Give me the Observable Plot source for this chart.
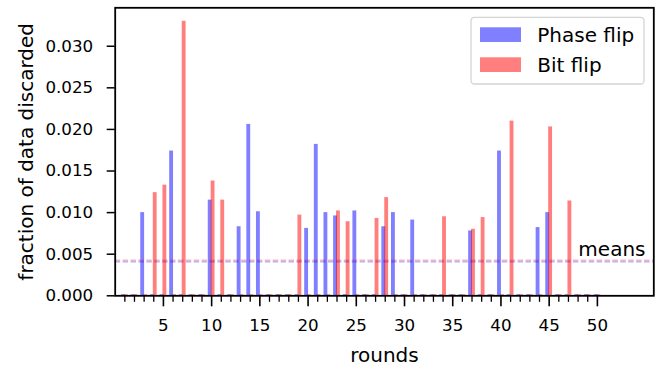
<!DOCTYPE html>
<html><head><meta charset="utf-8">
<script src="https://cdn.jsdelivr.net/npm/d3@7"></script>
<script src="https://cdn.jsdelivr.net/npm/@observablehq/plot@0.6"></script>
<style>body{margin:0;background:#fff} svg{font-family:"DejaVu Sans"}</style>
</head><body><div id="chart"></div>
<script>
const rounds = d3.range(1, 51);
const phaseFlip = [
  0, 0, 0.0100, 0, 0, 0.0174, 0, 0, 0, 0.0115,
  0, 0, 0.0083, 0.0206, 0.0101, 0, 0, 0, 0, 0.0081,
  0.0182, 0.0100, 0.0096, 0, 0.0102, 0, 0, 0.0083, 0.0100, 0,
  0.0091, 0, 0, 0, 0, 0, 0.0078, 0, 0, 0.0174,
  0, 0, 0, 0.0082, 0.0100, 0, 0, 0, 0, 0
];
const bitFlip = [
  0, 0, 0, 0.0124, 0.0133, 0, 0.0330, 0, 0, 0.0138,
  0.0115, 0, 0, 0, 0, 0, 0, 0, 0.0097, 0,
  0, 0, 0.0102, 0.0089, 0, 0, 0.0093, 0.0118, 0, 0,
  0, 0, 0, 0.0095, 0, 0, 0.0080, 0.0094, 0, 0,
  0.0210, 0, 0, 0, 0.0203, 0, 0.0114, 0, 0, 0
];
const seriesNames = ["Phase flip", "Bit flip"];
const seriesColors = ["blue", "red"];
const yTicks = [0, 0.005, 0.010, 0.015, 0.020, 0.025, 0.030];
const xMajorTicks = [5, 10, 15, 20, 25, 30, 35, 40, 45, 50];
const xMinorTicks = rounds.filter(r => r % 5 !== 0);

const phaseData = rounds.map((r, i) => ({round: r, value: phaseFlip[i]}));
const bitData = rounds.map((r, i) => ({round: r, value: bitFlip[i]}));
const meanPhase = d3.mean(phaseFlip);
const meanBit = d3.mean(bitFlip);

const chart = Plot.plot({
  width: 667, height: 368,
  marginLeft: 114.7, marginRight: 13.7, marginTop: 7.3, marginBottom: 72.7,
  style: {fontFamily: "DejaVu Sans", background: "#fff", color: "#000"},
  x: {domain: [0, 55.85]},
  y: {domain: [0, 0.03462]},
  marks: [
    Plot.ruleY(phaseData.filter(d => d.value === 0), {y: 0, x1: d => d.round - 0.35, x2: d => d.round + 0.05, stroke: "blue", strokeOpacity: 0.5, strokeWidth: 1.2, dy: -1}),
    Plot.ruleY(bitData.filter(d => d.value === 0), {y: 0, x1: d => d.round - 0.05, x2: d => d.round + 0.35, stroke: "red", strokeOpacity: 0.5, strokeWidth: 1.2, dy: -1}),
    Plot.rectY(phaseData.filter(d => d.value > 0), {x1: d => d.round - 0.35, x2: d => d.round + 0.05, y1: 0, y2: "value", fill: "blue", fillOpacity: 0.5}),
    Plot.rectY(bitData.filter(d => d.value > 0), {x1: d => d.round - 0.05, x2: d => d.round + 0.35, y1: 0, y2: "value", fill: "red", fillOpacity: 0.5}),
    Plot.ruleY([meanPhase], {stroke: "blue", strokeOpacity: 0.3, strokeWidth: 1.6, strokeDasharray: "5.5,2.4"}),
    Plot.ruleY([meanBit], {stroke: "red", strokeOpacity: 0.3, strokeWidth: 1.6, strokeDasharray: "5.5,2.4"}),
    Plot.text([meanBit], {y: d => d, text: () => "means", frameAnchor: "right", dx: -8.3, dy: -11, textAnchor: "end", lineAnchor: "middle", fontSize: 20}),
    Plot.axisY({ticks: yTicks, tickFormat: d3.format(".3f"), tickSize: 8, tickPadding: 14, fontSize: 16.7, strokeWidth: 1.5, label: null}),
    Plot.axisX({ticks: xMinorTicks, tickFormat: () => "", tickSize: 6.5, strokeWidth: 1.3, label: null}),
    Plot.axisX({ticks: xMajorTicks, tickFormat: d => String(d), tickSize: 11, tickPadding: 12, fontSize: 16.7, strokeWidth: 1.6, label: null}),
    Plot.frame({stroke: "black", strokeWidth: 1.8}),
    Plot.text(["fraction of data discarded"], {frameAnchor: "left", dx: -89, rotate: -90, textAnchor: "middle", lineAnchor: "middle", fontSize: 20}),
    Plot.text(["rounds"], {frameAnchor: "bottom", dy: 59.4, textAnchor: "middle", lineAnchor: "middle", fontSize: 20})
  ]
});
document.getElementById("chart").appendChild(chart);

// legend
const svg = d3.select(chart);
const g = svg.append("g").attr("text-anchor", "start");
g.append("rect").attr("x", 471).attr("y", 17.3).attr("width", 173).attr("height", 66.7)
  .attr("rx", 3.5).attr("fill", "white").attr("fill-opacity", 0.8)
  .attr("stroke", "#d4d4d4").attr("stroke-width", 1.3);
seriesNames.forEach((name, i) => {
  g.append("rect").attr("x", 480).attr("y", 27.3 + 30 * i).attr("width", 41).attr("height", 14.7)
    .attr("fill", seriesColors[i]).attr("fill-opacity", 0.5);
  g.append("text").attr("x", 537.3).attr("y", 42.3 + 30 * i).attr("font-size", 20)
    .attr("text-anchor", "start").attr("fill", "black").text(name);
});
</script>
</body></html>
